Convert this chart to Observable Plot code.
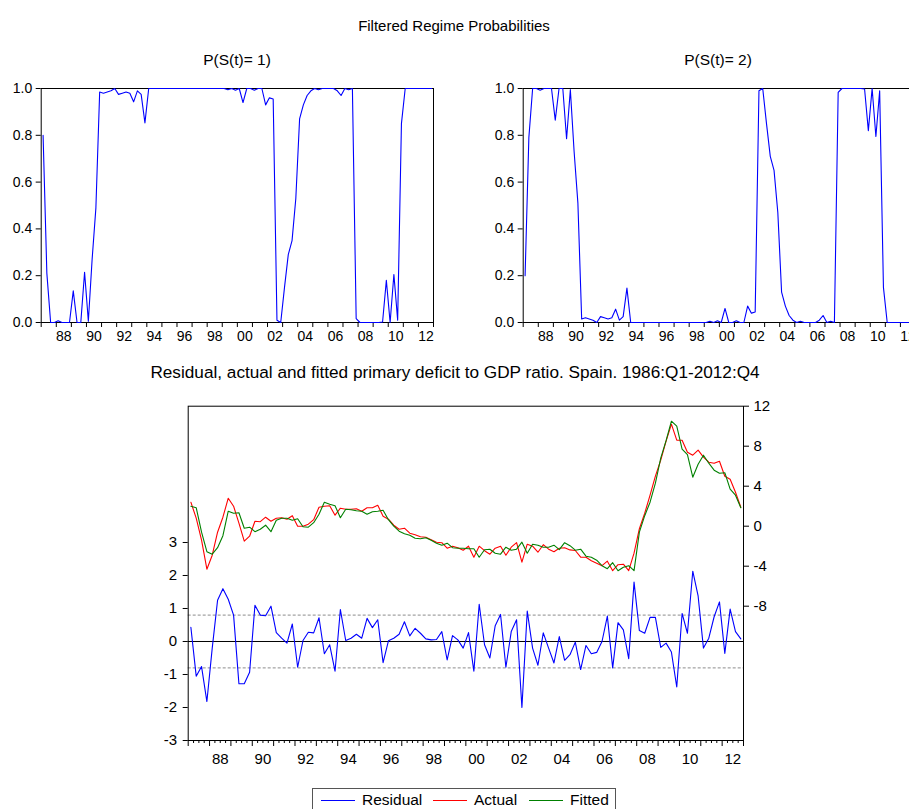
<!DOCTYPE html>
<html><head><meta charset="utf-8">
<script src="https://cdn.jsdelivr.net/npm/d3@7"></script>
<script src="https://cdn.jsdelivr.net/npm/@observablehq/plot@0.6"></script>
<style>
html,body{margin:0;padding:0;background:#fff;overflow:hidden}
#root{position:relative;width:909px;height:809px;overflow:hidden;font-family:"Liberation Sans",Arial,sans-serif;color:#000;background:#fff}
.t{position:absolute;white-space:nowrap;transform:translate(-50%,-50%);font-size:15px}
.p{position:absolute}
.leg{position:absolute;left:312px;top:788px;width:304px;height:30px;border:1px solid #555;box-sizing:border-box;font-size:15.5px}
.li{position:absolute;top:11px;height:0;border-top:1px solid}
.lt{position:absolute;top:2px;white-space:nowrap}
</style></head><body><div id="root"></div>
<script>
// ---- data: quarterly 1987Q1 .. 2012Q4 ----
const firstYear = 1987, lastYear = 2013;
const p1 = [0.80,0.21,0.0,0.0,0.007,0.0,0.0,0.0,0.135,0.0,0.0,0.215,0.005,0.27,0.49,0.985,
  0.98,0.985,0.99,1.0,0.975,0.98,0.985,0.98,0.943,0.99,0.975,0.853,
  1,1,1,1,1,1,1,1,1,1,1,1,1,1,1,1,1,1,1,1,1,
  0.995,1.0,0.993,1.0,0.94,1.0,1.0,0.993,1.0,1.0,0.93,0.96,0.955,
  0.01,0.0,0.15,0.29,0.35,0.53,0.87,0.93,0.97,0.99,
  1.0,0.995,1.0,1.0,1.0,1.0,0.99,0.97,1.0,0.995,1.0,
  0.017,0.0,0.0,0.0,0.0,0.0,0.0,0.002,0.18,0.0,0.205,0.01,0.85,
  1,1,1,1,1,1,1,1];
const p2 = [0.20,0.79,1.0,1.0,0.993,1.0,1.0,1.0,0.865,1.0,1.0,0.785,0.995,0.73,0.51,0.015,
  0.02,0.015,0.01,0.0,0.025,0.02,0.015,0.02,0.057,0.01,0.025,0.147,
  0,0,0,0,0,0,0,0,0,0,0,0,0,0,0,0,0,0,0,0,0,
  0.005,0.0,0.007,0.0,0.06,0.0,0.0,0.007,0.0,0.0,0.07,0.04,0.045,
  0.99,1.0,0.85,0.71,0.65,0.47,0.13,0.07,0.03,0.01,
  0.0,0.005,0.0,0.0,0.0,0.0,0.01,0.03,0.0,0.005,0.0,
  0.983,1.0,1.0,1.0,1.0,1.0,1.0,0.998,0.82,1.0,0.795,0.99,0.15,
  0,0,0,0,0,0,0,0];
const residual = [0.43,-1.05,-0.76,-1.82,-0.2,1.25,1.6,1.28,0.8,-1.28,-1.28,-0.93,1.1,0.8,0.78,1.07,
  0.27,0.1,-0.05,0.53,-0.78,0.03,0.28,0.26,0.72,-0.37,-0.1,-0.9,0.97,0.03,0.1,0.22,
  0.1,0.7,0.42,0.66,-0.64,0.02,0.1,0.22,0.6,0.17,0.4,0.25,0.08,0.05,0.06,0.3,
  -0.56,0.18,0.05,-0.2,0.27,-0.9,1.13,-0.1,-0.5,0.48,0.82,-0.78,0.3,0.66,-2.0,0.92,
  -0.2,-0.72,0.26,-0.2,-0.65,0.15,-0.57,-0.4,-0.02,-0.85,-0.12,-0.37,-0.33,0.0,0.77,-0.8,
  0.57,0.35,-0.52,1.8,0.33,0.25,0.73,0.73,-0.18,-0.05,-0.32,-1.38,0.85,0.25,2.13,1.38,
  -0.2,0.1,0.75,1.2,-0.36,0.98,0.3,0.08];
const actual = [2.4,0.8,-1.4,-4.3,-2.9,-0.6,0.9,2.8,2.0,0.3,-1.5,-1.0,0.5,0.45,0.9,0.5,
  0.8,0.85,0.7,1.05,0.0,0.0,0.2,0.65,1.9,2.0,2.05,1.1,1.8,1.7,1.7,1.75,
  1.5,1.85,1.85,2.1,1.0,0.7,0.1,-0.3,-0.2,-0.7,-0.85,-1.05,-1.1,-1.35,-1.6,-1.65,
  -2.2,-2.0,-2.15,-2.4,-2.0,-3.1,-2.0,-2.45,-2.8,-2.2,-2.0,-2.9,-2.1,-1.65,-3.6,-1.8,
  -2.0,-2.6,-1.85,-2.3,-2.55,-2.2,-2.15,-2.37,-2.43,-3.1,-3.1,-3.45,-3.7,-3.95,-3.5,-4.45,
  -3.85,-3.8,-4.45,-2.7,-0.25,1.3,3.1,5.0,6.6,8.5,10.2,8.6,8.6,7.4,7.1,7.6,
  6.9,6.4,6.3,6.5,5.0,4.7,3.4,1.9];
const fitted = [2.0,1.85,-0.6,-2.55,-2.8,-2.15,-0.95,1.5,1.3,1.35,-0.2,-0.1,-0.55,-0.3,0.1,-0.55,
  0.6,0.8,0.8,0.6,0.75,-0.05,-0.1,0.35,1.2,2.4,2.2,2.05,0.85,1.7,1.65,1.55,
  1.5,1.2,1.45,1.5,1.6,0.65,0.0,-0.5,-0.75,-0.9,-1.2,-1.25,-1.15,-1.4,-1.7,-1.9,
  -1.7,-2.15,-2.2,-2.2,-2.25,-2.25,-3.1,-2.35,-2.3,-2.7,-2.8,-2.1,-2.4,-2.3,-1.6,-2.7,
  -1.8,-1.9,-2.1,-2.1,-1.9,-2.35,-1.65,-1.95,-2.4,-2.3,-3.0,-3.1,-3.4,-3.95,-4.25,-3.65,
  -4.45,-4.1,-3.95,-4.45,-0.6,1.05,2.4,4.3,6.8,8.55,10.5,10.0,7.7,7.15,4.9,6.2,
  7.1,6.3,5.6,5.3,5.35,3.7,3.1,1.85];
const probTicks = [0, 0.2, 0.4, 0.6, 0.8, 1.0];
const residTicks = [-3, -2, -1, 0, 1, 2, 3];
const levelTicks = [-8, -4, 0, 4, 8, 12];
const labelYears = [1988,1990,1992,1994,1996,1998,2000,2002,2004,2006,2008,2010,2012];
const bandLines = [-0.8, 0.8];

// quarter centres (x positions are categories: year + quarter)
const qt = p1.map((_, i) => firstYear + Math.floor(i / 4) + (i % 4) / 4 + 0.125);
const yearTicks = d3.range(firstYear, lastYear + 1);
const quarterTicks = d3.range(firstYear, lastYear, 0.25).filter(d => d % 1 !== 0);
const yy = d => String(Math.floor(d) % 100).padStart(2, "0");
const FONT = "'Liberation Sans', Arial, sans-serif";

const root = document.getElementById("root");
function place(node, left, top) {
  node.classList.add("p"); node.style.left = left + "px"; node.style.top = top + "px";
  root.appendChild(node);
}
function text(str, x, y, size) {
  const d = document.createElement("div"); d.className = "t"; d.textContent = str;
  d.style.left = x + "px"; d.style.top = y + "px"; if (size) d.style.fontSize = size + "px";
  root.appendChild(d);
}

function probPanel(values) {
  const data = values.map((v, i) => ({t: qt[i], v}));
  return Plot.plot({
    width: 440, height: 270,
    marginLeft: 40.7, marginRight: 7, marginTop: 8, marginBottom: 28,
    x: {domain: [firstYear, lastYear], label: null},
    y: {domain: [0, 1], label: null},
    style: {fontFamily: FONT, fontSize: "14px", background: "transparent", overflow: "visible", color: "#000"},
    marks: [
      Plot.axisY({ticks: probTicks, tickFormat: d => d.toFixed(1), tickSize: 5, tickPadding: 4, label: null}),
      Plot.axisX({ticks: yearTicks, tickFormat: () => "", tickSize: 5, label: null}),
      Plot.axisX({ticks: labelYears.map(y => y + 0.5), tickFormat: yy, tickSize: 0, tickPadding: 9, label: null}),
      Plot.frame({stroke: "#000"}),
      Plot.lineY(data, {x: "t", y: "v", stroke: "#0000ff", strokeWidth: 1.1})
    ]
  });
}

text("Filtered Regime Probabilities", 454, 25, 15);
text("P(S(t)= 1)", 237, 60, 15.5);
text("P(S(t)= 2)", 718, 60, 15.5);
place(probPanel(p1), 0, 80);
place(probPanel(p2), 482, 80);

text("Residual, actual and fitted primary deficit to GDP ratio. Spain. 1986:Q1-2012:Q4", 455, 372, 17.2);

const W = 653, H = 375, ML = 47.7, MR = 50, MT = 10.7, MB = 30;
const resData = residual.map((v, i) => ({t: qt[i], v}));
const lvlData = [
  ...actual.map((v, i) => ({t: qt[i], v, s: "Actual"})),
  ...fitted.map((v, i) => ({t: qt[i], v, s: "Fitted"}))
];
const bottomA = Plot.plot({
  width: W, height: H, marginLeft: ML, marginRight: MR, marginTop: MT, marginBottom: MB,
  x: {domain: [firstYear, lastYear], label: null},
  y: {domain: [-3, 7.13], label: null},
  style: {fontFamily: FONT, fontSize: "15px", background: "transparent", overflow: "visible", color: "#000"},
  marks: [
    Plot.ruleY(bandLines, {stroke: "#8c8c8c", strokeDasharray: "3,2", strokeWidth: 1}),
    Plot.ruleY([0], {stroke: "#000", strokeWidth: 1}),
    Plot.axisY({ticks: residTicks, tickFormat: String, tickSize: 5, tickPadding: 6, label: null}),
    Plot.axisX({ticks: quarterTicks, tickFormat: () => "", tickSize: 3, label: null}),
    Plot.axisX({ticks: yearTicks, tickFormat: () => "", tickSize: 6, label: null}),
    Plot.axisX({ticks: labelYears.map(y => y + 0.5), tickFormat: yy, tickSize: 0, tickPadding: 12.5, label: null}),
    Plot.frame({stroke: "#000"}),
    Plot.lineY(resData, {x: "t", y: "v", stroke: "#0000ff", strokeWidth: 1.1})
  ]
});
const bottomB = Plot.plot({
  width: W, height: H, marginLeft: ML, marginRight: MR, marginTop: MT, marginBottom: MB,
  x: {domain: [firstYear, lastYear], label: null, axis: null},
  y: {domain: [-21.43, 12], label: null},
  color: {domain: ["Actual", "Fitted"], range: ["#ff0000", "#008000"]},
  style: {fontFamily: FONT, fontSize: "15px", background: "transparent", overflow: "visible", color: "#000"},
  marks: [
    Plot.axisY({anchor: "right", ticks: levelTicks, tickFormat: String, tickSize: 5, tickPadding: 5, label: null}),
    Plot.lineY(lvlData, {x: "t", y: "v", z: "s", stroke: "s", strokeWidth: 1.1})
  ]
});
place(bottomA, 140, 395);
place(bottomB, 140, 395);

// legend
const leg = document.createElement("div"); leg.className = "leg";
const items = [["Residual", "#0000ff", 8, 49], ["Actual", "#ff0000", 120, 161], ["Fitted", "#008000", 216, 257]];
for (const [name, col, lx, tx] of items) {
  const l = document.createElement("div"); l.className = "li";
  l.style.left = lx + "px"; l.style.width = "34px"; l.style.borderColor = col; leg.appendChild(l);
  const t = document.createElement("div"); t.className = "lt"; t.textContent = name;
  t.style.left = tx + "px"; leg.appendChild(t);
}
root.appendChild(leg);
</script></body></html>
